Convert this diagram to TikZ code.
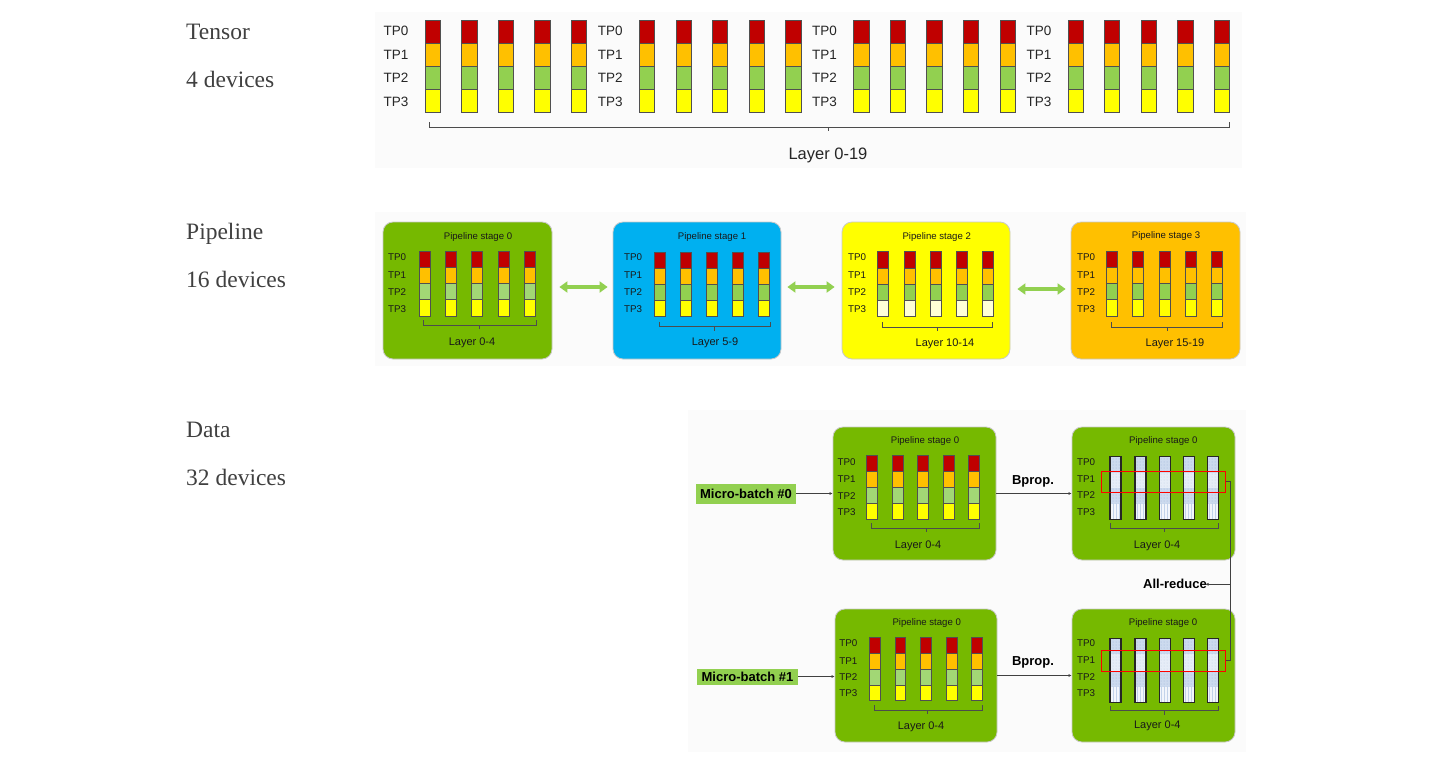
\documentclass[tikz,border=0pt]{standalone}
\usepackage{fontspec}
\setmainfont{Liberation Serif}
\setsansfont{Liberation Sans}
\usetikzlibrary{arrows.meta,patterns}
\definecolor{tpred}{HTML}{C00000}
\definecolor{tporange}{HTML}{FFC000}
\definecolor{tpgreen}{HTML}{92D050}
\definecolor{tpgreenlt}{HTML}{A2D775}
\definecolor{tpyellow}{HTML}{FFFF00}
\definecolor{tpwhite}{HTML}{FFFFD6}
\definecolor{nvgreen}{HTML}{76B900}
\definecolor{skyblue}{HTML}{00B0F0}
\definecolor{textgray}{HTML}{404040}
\definecolor{panelgray}{HTML}{FBFBFB}
\definecolor{boxborder}{HTML}{C8C8C8}
\definecolor{cellborder}{HTML}{505050}
\definecolor{gqa}{HTML}{CCDAEE}
\definecolor{gqb}{HTML}{E6EDF7}
\definecolor{gqc}{HTML}{F2F5FB}
\definecolor{gdot}{HTML}{9DB5DA}
\definecolor{gdotlt}{HTML}{C2D2EA}
\definecolor{mbgreen}{HTML}{92D050}
\newcommand\tpcol[8]{%
  \foreach \ii/\cc in {0/#5,1/#6,2/#7,3/#8}
    \filldraw[cellst, fill=\cc] (#1,#2+\ii*#4) rectangle ++(#3,#4);}
\newcommand\gcol[4]{%
  \fill[gqa] (#1,#2) rectangle ++(#3,#4);
  \fill[pattern=dots, pattern color=gdot] (#1,#2) rectangle ++(#3,#4);
  \fill[gqb] (#1,#2+#4) rectangle ++(#3,#4);
  \fill[pattern=dots, pattern color=gdotlt] (#1,#2+#4) rectangle ++(#3,#4);
  \fill[gqa] (#1,#2+2*#4) rectangle ++(#3,#4);
  \fill[pattern=dots, pattern color=gdot] (#1,#2+2*#4) rectangle ++(#3,#4);
  \fill[gqc] (#1,#2+3*#4) rectangle ++(#3,#4);
  \fill[pattern=vertical lines, pattern color=gdotlt] (#1,#2+3*#4) rectangle ++(#3,#4);
  \draw[gbord] (#1,#2) rectangle ++(#3,4*#4);}
\newcommand\brk[4]{%
  \draw[brkst] (#1,#3-5) -- (#1,#3) -- (#2,#3) -- (#2,#3-5);
  \draw[brkst] (#4,#3) -- (#4,#3+4);}
\begin{document}
\begin{tikzpicture}[x=1pt,y=-1pt,
  cellst/.style={draw=cellborder, line width=0.7pt},
  gbord/.style={draw=black!85, line width=1.1pt},
  brkst/.style={draw=black!70, line width=0.7pt},
  lefttxt/.style={font=\fontsize{23.5}{28}\selectfont, text=textgray, anchor=base west, inner sep=0pt},
  tptxt/.style={font=\sffamily\fontsize{13.5}{15}\selectfont, text=black!85, inner sep=0pt},
  stp/.style={font=\sffamily\fontsize{9.8}{11}\selectfont, text=black!90, inner sep=0pt},
  ttl/.style={font=\sffamily\fontsize{9.6}{11}\selectfont, text=black!90, inner sep=0pt},
  lyr/.style={font=\sffamily\fontsize{11}{13}\selectfont, text=black!90, inner sep=0pt},
  lyrbig/.style={font=\sffamily\fontsize{16.5}{19}\selectfont, text=black!85, inner sep=0pt},
  blab/.style={font=\sffamily\bfseries\fontsize{13}{15}\selectfont, text=black, inner sep=0pt},
  stagebox/.style={draw=boxborder, line width=0.8pt, rounded corners=10pt},
  dbl/.style={draw=tpgreen, line width=4pt, {Triangle[width=11pt,length=8pt]}-{Triangle[width=11pt,length=8pt]}},
  conn/.style={draw=black!75, line width=0.9pt},
  connar/.style={conn, -{Latex[length=3pt,width=3pt]}},
  mb/.style={fill=mbgreen, font=\sffamily\bfseries\fontsize{13}{15}\selectfont, inner sep=0pt, minimum width=100pt},
  redbox/.style={draw=red, line width=0.9pt, inner sep=0pt}
]
\fill[white] (0,0) rectangle (1446,756);
\useasboundingbox (0,0) rectangle (1446,756);
% faint panels
\fill[panelgray] (375,12) rectangle (1242,168);
\fill[panelgray] (375,212) rectangle (1246,366);
\fill[panelgray] (688,410) rectangle (1246,752);

% left captions
\node[lefttxt] (tn) at (186,39.3) {Tensor};
\node[lefttxt] (tnd) at (186,87.7) {4 devices};
\node[lefttxt] (pl) at (186,239.3) {Pipeline};
\node[lefttxt] (pld) at (186,287.5) {16 devices};
\node[lefttxt] (dt) at (186,437.3) {Data};
\node[lefttxt] (dtd) at (186,485.5) {32 devices};

% ---------- Tensor ----------
\foreach \g in {0,...,3} {
  \pgfmathsetmacro\gx{425+214.3*\g}
  \foreach \r in {0,...,3}
    \node[tptxt] (tl\g\r) at (\gx-29, 31+23.6*\r) {TP\r};
  \foreach \k in {0,...,4}
    \tpcol{\gx+36.6*\k}{20}{15.3}{23}{tpred}{tporange}{tpgreen}{tpyellow};
}
\brk{429}{1229}{127}{828}
\node[lyrbig] (tlayer) at (828,155) {Layer 0-19};

% ---------- Pipeline ----------
\node[stagebox, fill=nvgreen, minimum width=169pt, minimum height=137pt] (s0) at (467.5,290.5) {};
\node[stagebox, fill=skyblue, minimum width=168pt, minimum height=137pt] (s1) at (697,290.5) {};
\node[stagebox, fill=tpyellow, minimum width=168pt, minimum height=137pt] (s2) at (926,290.5) {};
\node[stagebox, fill=tporange, minimum width=169pt, minimum height=137pt] (s3) at (1155.5,290.5) {};

% stage 0
\node[ttl] (s0t) at (478,237) {Pipeline stage 0};
\foreach \r/\yy in {0/257.5,1/275,2/292.5,3/309}
  \node[stp] (s0l\r) at (397,\yy) {TP\r};
\foreach \k in {0,...,4}
  \tpcol{419.3+26.2*\k}{251}{11}{16.25}{tpred}{tporange}{tpgreenlt}{tpyellow};
\brk{423}{536}{325}{479}
\node[lyr] (s0y) at (472,343) {Layer 0-4};

% stage 1
\node[ttl] (s1t) at (712,237) {Pipeline stage 1};
\foreach \r/\yy in {0/257.5,1/275,2/292.5,3/309}
  \node[stp] (s1l\r) at (633,\yy) {TP\r};
\foreach \k in {0,...,4}
  \tpcol{654.3+26.1*\k}{252}{10.8}{16.2}{tpred}{tporange}{tpgreen}{tpyellow};
\brk{659}{770}{326.5}{714}
\node[lyr] (s1y) at (715,343) {Layer 5-9};

% stage 2
\node[ttl] (s2t) at (936.7,237) {Pipeline stage 2};
\foreach \r/\yy in {0/257.5,1/275,2/292.5,3/309}
  \node[stp] (s2l\r) at (857,\yy) {TP\r};
\foreach \k in {0,...,4}
  \tpcol{877.7+26.25*\k}{251.7}{11}{16.25}{tpred}{tporange}{tpgreen}{tpwhite};
\brk{882}{992.7}{327}{937.7}
\node[lyr] (s2y) at (945,344) {Layer 10-14};

% stage 3
\node[ttl] (s3t) at (1166,236) {Pipeline stage 3};
\foreach \r/\yy in {0/257.5,1/275,2/292.5,3/309}
  \node[stp] (s3l\r) at (1086,\yy) {TP\r};
\foreach \k in {0,...,4}
  \tpcol{1106.7+26.1*\k}{251}{11}{16.25}{tpred}{tporange}{tpgreen}{tpyellow};
\brk{1111.7}{1222}{327}{1167}
\node[lyr] (s3y) at (1175,344) {Layer 15-19};

% double arrows
\draw[dbl] ([xshift=7pt,yshift=3.5pt]s0.east) -- ([xshift=-5pt,yshift=3.5pt]s1.west);
\draw[dbl] ([xshift=6pt,yshift=3.5pt]s1.east) -- ([xshift=-7pt,yshift=3.5pt]s2.west);
\draw[dbl] ([xshift=7pt,yshift=1.5pt]s2.east) -- ([xshift=-5pt,yshift=1.5pt]s3.west);

% ---------- Data ----------
\node[stagebox, fill=nvgreen, minimum width=163pt, minimum height=133pt] (dA) at (914.5,493.5) {};
\node[stagebox, fill=nvgreen, minimum width=163pt, minimum height=133pt] (dB) at (1153.5,493.5) {};
\node[stagebox, fill=nvgreen, minimum width=162pt, minimum height=133pt] (dC) at (916,675.5) {};
\node[stagebox, fill=nvgreen, minimum width=163pt, minimum height=133pt] (dD) at (1153.5,675.5) {};

% box A
\node[ttl] (dAt) at (925,441) {Pipeline stage 0};
\foreach \r/\yy in {0/462.3,1/479,2/495.7,3/511.7}
  \node[stp] (dAl\r) at (846.7,\yy) {TP\r};
\foreach \k in {0,...,4}
  \tpcol{866.7+25.5*\k}{455.7}{11}{15.8}{tpred}{tporange}{tpgreenlt}{tpyellow};
\brk{871.7}{979.3}{528.3}{926}
\node[lyr] (dAy) at (918,545.7) {Layer 0-4};

% box C
\node[ttl] (dCt) at (926.7,623.3) {Pipeline stage 0};
\foreach \r/\yy in {0/643.3,1/660.7,2/677.3,3/693}
  \node[stp] (dCl\r) at (848.3,\yy) {TP\r};
\foreach \k in {0,...,4}
  \tpcol{869.3+25.6*\k}{637.3}{10.8}{15.85}{tpred}{tporange}{tpgreenlt}{tpyellow};
\brk{874.3}{982.3}{710}{927.3}
\node[lyr] (dCy) at (921,726.7) {Layer 0-4};

% box B
\node[ttl] (dBt) at (1163.3,441) {Pipeline stage 0};
\foreach \r/\yy in {0/462,1/479,2/495,3/512}
  \node[stp] (dBl\r) at (1086,\yy) {TP\r};
\foreach \xx in {1110,1135,1159.3,1183.3,1207.7}
  \gcol{\xx}{456.7}{11}{15.8};
\brk{1110}{1218.3}{528.3}{1164}
\node[lyr] (dBy) at (1157,546) {Layer 0-4};
\node[redbox, minimum width=124pt, minimum height=21.3pt] (rB) at (1163.7,481.65) {};

% box D
\node[ttl] (dDt) at (1163,622.7) {Pipeline stage 0};
\foreach \r/\yy in {0/643.3,1/660,2/676.7,3/693.3}
  \node[stp] (dDl\r) at (1086,\yy) {TP\r};
\foreach \xx in {1110,1135,1159.3,1183.3,1207.7}
  \gcol{\xx}{638.3}{11}{16.1};
\brk{1110}{1218}{710.7}{1164}
\node[lyr] (dDy) at (1157.3,726) {Layer 0-4};
\node[redbox, minimum width=124pt, minimum height=21.7pt] (rD) at (1163.7,660.85) {};

% micro-batches and connectors
\node[mb, minimum height=20pt] (mb0) at (746,493.5) {Micro-batch \#0};
\node[mb, minimum height=16pt, minimum width=101pt] (mb1) at (747.5,676.5) {Micro-batch \#1};
\draw[connar] (mb0.east) -- (mb0.east -| dA.west);
\draw[connar] (mb1.east) -- (mb1.east -| dC.west);
\draw[connar] (dA.east) -- (dB.west);
\draw[connar] (dC.east) -- (dD.west);
\node[blab] (bp0) at (1033,481.7) {Bprop.};
\node[blab] (bp1) at (1033,662.5) {Bprop.};

% all-reduce
\coordinate (ar) at (1230,584.3);
\draw[conn] (rB.east) -| (ar) |- (rD.east);
\node[blab, anchor=east] (arl) at (1207,584.3) {All-reduce};
\draw[connar] (ar) -- ([xshift=-1.5pt]arl.east);
\end{tikzpicture}
\end{document}
